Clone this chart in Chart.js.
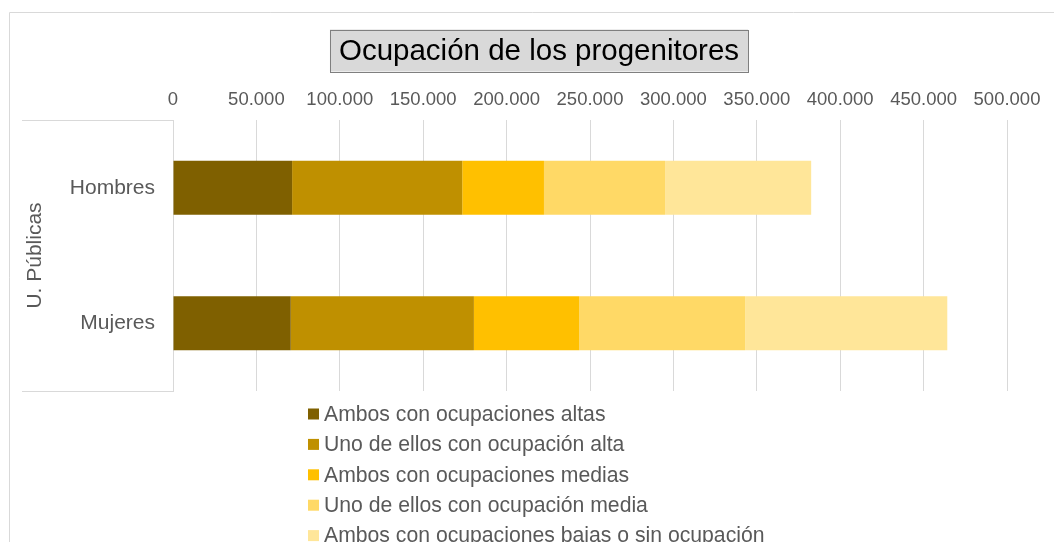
<!DOCTYPE html>
<html>
<head>
<meta charset="utf-8">
<script src="https://cdn.jsdelivr.net/npm/chart.js@4.4.1/dist/chart.umd.min.js"></script>
<style>
  html, body { margin: 0; padding: 0; background: #fff; }
  #wrap { position: relative; width: 1054px; height: 542px; }
</style>
</head>
<body>
<div id="wrap"><canvas id="chart"></canvas></div>
<script>
const categories = ['Hombres', 'Mujeres'];
const groupLabel = 'U. Públicas';
const chartTitle = 'Ocupación de los progenitores';

const seriesNames = [
  'Ambos con ocupaciones altas',
  'Uno de ellos con ocupación alta',
  'Ambos con ocupaciones medias',
  'Uno de ellos con ocupación media',
  'Ambos con ocupaciones bajas o sin ocupación'
];
const ambosAltas   = [71400, 70600];
const unoAlta      = [102000, 109800];
const ambosMedias  = [49000, 63200];
const unoMedia     = [72600, 99400];
const ambosBajas   = [87600, 121200];

const seriesColors = ['#7f6000', '#bf9000', '#ffc000', '#ffd966', '#ffe699'];

const grey = '#595959';
const gridGrey = '#d9d9d9';
const font = 'Liberation Sans, Arial, sans-serif';

function fmt(v) {
  return String(v).replace(/\B(?=(\d{3})+(?!\d))/g, '.');
}

const seriesValues = [ambosAltas, unoAlta, ambosMedias, unoMedia, ambosBajas];

const datasets = seriesNames.map((name, i) => ({
  label: name,
  data: seriesValues[i],
  backgroundColor: seriesColors[i],
  borderWidth: 0,
  categoryPercentage: 1,
  barPercentage: 0.4
}));

// frame, title box, category axis box lines and the stacked list legend
const excelBits = {
  id: 'excelBits',
  beforeDraw(chart) {
    const ctx = chart.ctx;
    const a = chart.chartArea;
    ctx.save();
    // outer chart border (runs off the right / bottom edge)
    ctx.strokeStyle = gridGrey;
    ctx.lineWidth = 1;
    ctx.beginPath();
    ctx.moveTo(9.5, chart.height + 5);
    ctx.lineTo(9.5, 12.5);
    ctx.lineTo(chart.width + 5, 12.5);
    ctx.stroke();

    // title with grey box
    ctx.font = '29.5px ' + font;
    const tw = ctx.measureText(chartTitle).width;
    const cx = 539, cy = 50.5;
    const bw = tw + 18, bh = 42;
    ctx.fillStyle = '#d9d9d9';
    ctx.fillRect(cx - bw / 2, cy - bh / 2, bw, bh);
    ctx.strokeStyle = '#7f7f7f';
    ctx.strokeRect(Math.round(cx - bw / 2) + 0.5, Math.round(cy - bh / 2) + 0.5, Math.round(bw), bh);
    ctx.fillStyle = '#000';
    ctx.textAlign = 'center';
    ctx.textBaseline = 'middle';
    ctx.fillText(chartTitle, cx, cy + 1);

    // category label box lines
    ctx.strokeStyle = gridGrey;
    ctx.beginPath();
    ctx.moveTo(22, Math.round(a.top) + 0.5);
    ctx.lineTo(a.left, Math.round(a.top) + 0.5);
    ctx.moveTo(22, Math.round(a.bottom) + 0.5);
    ctx.lineTo(a.left, Math.round(a.bottom) + 0.5);
    ctx.stroke();
    ctx.restore();
  },
  afterDraw(chart) {
    const ctx = chart.ctx;
    const a = chart.chartArea;
    ctx.save();
    ctx.font = '21.2px ' + font;
    ctx.textAlign = 'left';
    ctx.textBaseline = 'middle';
    chart.data.datasets.forEach((ds, i) => {
      const y = a.bottom + 23 + i * 30.4;
      ctx.fillStyle = ds.backgroundColor;
      ctx.fillRect(308, y - 5.5, 11, 11);
      ctx.fillStyle = grey;
      ctx.fillText(ds.label, 324, y + 1);
    });
    ctx.restore();
  }
};

new Chart(document.getElementById('chart'), {
  type: 'bar',
  data: { labels: categories, datasets: datasets },
  options: {
    indexAxis: 'y',
    responsive: true,
    maintainAspectRatio: false,
    animation: false,
    layout: { padding: { top: 80, left: 10, right: 47, bottom: 151 } },
    scales: {
      x: {
        position: 'top',
        stacked: true,
        min: 0,
        max: 500000,
        afterFit: (s) => { s.height = 40; },
        ticks: {
          stepSize: 50000,
          padding: 9,
          color: grey,
          font: { family: font, size: 18.5 },
          maxRotation: 0,
          callback: (v) => fmt(v)
        },
        grid: { color: gridGrey, lineWidth: 1, drawTicks: false },
        border: { display: false }
      },
      y: {
        stacked: true,
        afterFit: (s) => { s.width = 163; },
        ticks: {
          padding: 18,
          color: grey,
          font: { family: font, size: 21 }
        },
        grid: { display: false, drawTicks: false },
        border: { display: true, color: gridGrey, width: 1 },
        title: {
          display: true,
          text: groupLabel,
          color: grey,
          padding: { top: 13, bottom: 0 },
          font: { family: font, size: 21 }
        }
      }
    },
    plugins: {
      legend: { display: false },
      title: { display: false },
      tooltip: { enabled: false }
    }
  },
  plugins: [excelBits]
});
</script>
</body>
</html>
